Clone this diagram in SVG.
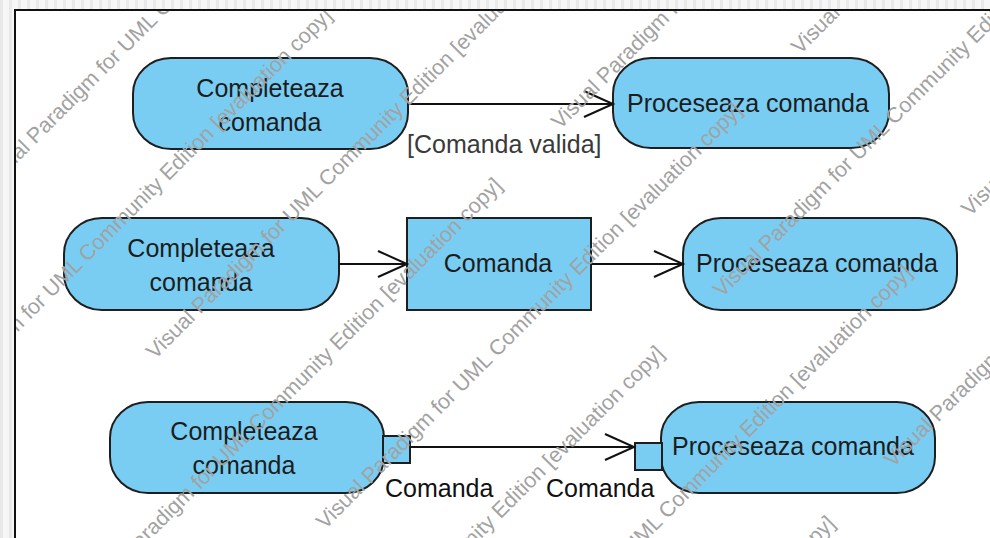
<svg xmlns="http://www.w3.org/2000/svg" xmlns:xlink="http://www.w3.org/1999/xlink" width="990" height="538" viewBox="0 0 990 538">
  <style>
    .node { fill: #79cdf3; stroke: #1e1e1e; stroke-width: 2; }
    .label { font-family: "Liberation Sans", Arial, sans-serif; font-size: 25px; fill: #1c1c1c; text-anchor: middle; }
    .guard { font-family: "Liberation Sans", Arial, sans-serif; font-size: 25px; fill: #3a3a3a; }
    .pinlabel { font-family: "Liberation Sans", Arial, sans-serif; font-size: 25px; fill: #111; }
    .flow { fill: none; stroke: #111; stroke-width: 2; marker-end: url(#open-arrow); }
    .wm { font-family: "Liberation Sans", Arial, sans-serif; font-size: 21.5px; fill: #a2a2a2; }
  </style>
  <defs>
    <pattern id="ruler" width="9" height="9" patternUnits="userSpaceOnUse">
      <rect width="9" height="9" fill="#f6f6f6"/>
      <rect x="0" width="3" height="9" fill="#e9e9e9"/>
    </pattern>
    <marker id="open-arrow" markerUnits="userSpaceOnUse" markerWidth="34" markerHeight="32" refX="30" refY="15" orient="auto">
      <path d="M1,2 L30,15 L1,28" fill="none" stroke="#111" stroke-width="2"/>
    </marker>
    <text id="wm" class="wm">Visual Paradigm for UML Community Edition [evaluation copy]</text>
    <clipPath id="canvas">
      <rect x="16" y="11" width="974" height="527"/>
    </clipPath>
  </defs>

  <!-- ruler strips and canvas -->
  <rect width="990" height="538" fill="url(#ruler)"/>
  <rect x="15" y="10" width="980" height="533" fill="#ffffff" stroke="#111" stroke-width="2"/>

  <!-- row 1 -->
  <g id="completeaza-1">
    <rect class="node" x="133" y="58" width="275" height="91" rx="38" ry="36"/>
    <text class="label" x="270" y="97">Completeaza</text>
    <text class="label" x="270" y="131">comanda</text>
  </g>
  <g id="proceseaza-1">
    <rect class="node" x="613" y="58" width="276" height="90" rx="38" ry="36"/>
    <text class="label" x="748" y="112">Proceseaza comanda</text>
  </g>

  <!-- row 2 -->
  <g id="completeaza-2">
    <rect class="node" x="64" y="218" width="275" height="92" rx="38" ry="36"/>
    <text class="label" x="201" y="257">Completeaza</text>
    <text class="label" x="201" y="291">comanda</text>
  </g>
  <g id="comanda-object">
    <rect class="node" x="407" y="218" width="184" height="92"/>
    <text class="label" x="498" y="272">Comanda</text>
  </g>
  <g id="proceseaza-2">
    <rect class="node" x="683" y="218" width="274" height="92" rx="38" ry="36"/>
    <text class="label" x="817" y="272">Proceseaza comanda</text>
  </g>

  <!-- row 3 -->
  <g id="completeaza-3">
    <rect class="node" x="110" y="402" width="274" height="91" rx="38" ry="36"/>
    <text class="label" x="244" y="440">Completeaza</text>
    <text class="label" x="244" y="474">comanda</text>
  </g>
  <g id="proceseaza-3">
    <rect class="node" x="661" y="402" width="274" height="91" rx="38" ry="36"/>
    <text class="label" x="793" y="455">Proceseaza comanda</text>
  </g>
  <g id="pin-out">
    <rect class="node" x="383" y="436" width="27" height="27"/>
    <text class="pinlabel" x="385" y="497">Comanda</text>
  </g>
  <g id="pin-in">
    <rect class="node" x="635" y="443" width="27" height="27"/>
    <text class="pinlabel" x="546" y="497">Comanda</text>
  </g>

  <!-- connectors -->
  <g id="connectors">
    <line class="flow" x1="408" y1="104" x2="613" y2="104"/>
    <text class="guard" x="407" y="153">[Comanda valida]</text>
    <line class="flow" x1="339" y1="264" x2="407" y2="264"/>
    <line class="flow" x1="591" y1="264" x2="683" y2="264"/>
    <line class="flow" x1="410" y1="447" x2="634" y2="447"/>
  </g>

  <!-- evaluation watermark -->
  <g id="watermark" clip-path="url(#canvas)">
    <use xlink:href="#wm" transform="translate(-10,190) rotate(-45)"/>
    <use xlink:href="#wm" transform="translate(-85,435) rotate(-45)"/>
    <use xlink:href="#wm" transform="translate(155,360) rotate(-45)"/>
    <use xlink:href="#wm" transform="translate(560,130) rotate(-45)"/>
    <use xlink:href="#wm" transform="translate(85,605) rotate(-45)"/>
    <use xlink:href="#wm" transform="translate(800,55) rotate(-45)"/>
    <use xlink:href="#wm" transform="translate(325,530) rotate(-45)"/>
    <use xlink:href="#wm" transform="translate(722,298) rotate(-45)"/>
    <use xlink:href="#wm" transform="translate(247,773) rotate(-45)"/>
    <use xlink:href="#wm" transform="translate(970,217) rotate(-45)"/>
    <use xlink:href="#wm" transform="translate(495,692) rotate(-45)"/>
    <use xlink:href="#wm" transform="translate(893,468) rotate(-45)"/>
    <use xlink:href="#wm" transform="translate(418,943) rotate(-45)"/>
  </g>
</svg>
